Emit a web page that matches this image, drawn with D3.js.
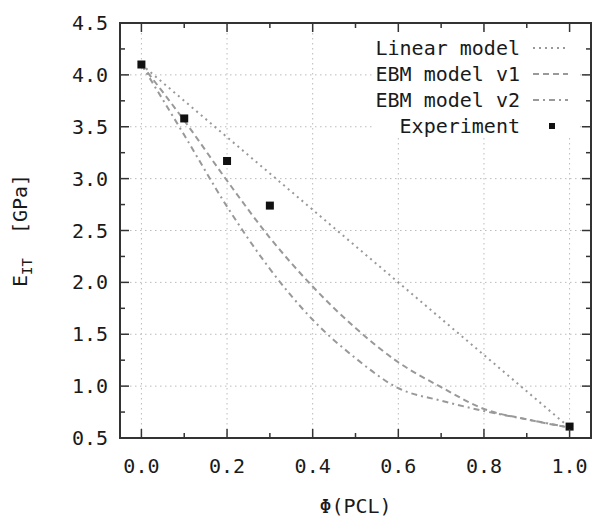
<!DOCTYPE html>
<html>
<head>
<meta charset="utf-8">
<script src="https://cdn.jsdelivr.net/npm/d3@7"></script>
<style>
  body { margin: 0; background: #fff; }
  text { font-family: "DejaVu Sans Mono", monospace; fill: #1a1a1a; }
</style>
</head>
<body>
<div id="chart"></div>
<script>
// values
const phi = [0.0, 0.1, 0.2, 0.3, 0.4, 0.5, 0.6, 0.7, 0.8, 0.9, 1.0];
const linearModel = [4.1, 3.75, 3.4, 3.05, 2.7, 2.35, 2.0, 1.65, 1.3, 0.95, 0.6];
const ebmV1 = [4.1, 3.56, 2.98, 2.43, 1.96, 1.56, 1.23, 0.99, 0.78, 0.68, 0.6];
const ebmV2 = [4.1, 3.42, 2.73, 2.13, 1.64, 1.27, 0.98, 0.86, 0.76, 0.68, 0.6];
const expPhi = [0.0, 0.1, 0.2, 0.3, 1.0];
const expE = [4.1, 3.58, 3.17, 2.74, 0.61];
const xTicks = [0.0, 0.2, 0.4, 0.6, 0.8, 1.0];
const yTicks = [0.5, 1.0, 1.5, 2.0, 2.5, 3.0, 3.5, 4.0, 4.5];
const legendNames = ['Linear model', 'EBM model v1', 'EBM model v2', 'Experiment'];

const config = {
  width: 594,
  height: 517,
  margin: {top: 23, right: 3, bottom: 79, left: 120}
};
const innerW = config.width - config.margin.left - config.margin.right;
const innerH = config.height - config.margin.top - config.margin.bottom;

const svg = d3.select('#chart').append('svg')
  .attr('width', config.width)
  .attr('height', config.height);

const g = svg.append('g')
  .attr('transform', `translate(${config.margin.left},${config.margin.top})`);

const x = d3.scaleLinear().domain([-0.05, 1.05]).range([0, innerW]);
const y = d3.scaleLinear().domain([0.5, 4.5]).range([innerH, 0]);

// grid
g.append('g').selectAll('line.gx')
  .data(xTicks)
  .join('line')
  .attr('x1', d => x(d)).attr('x2', d => x(d))
  .attr('y1', 0).attr('y2', innerH)
  .attr('stroke', '#bbb').attr('stroke-width', 1).attr('stroke-dasharray', '1.5,3.5');
g.append('g').selectAll('line.gy')
  .data(yTicks.slice(1, -1))
  .join('line')
  .attr('x1', 0).attr('x2', innerW)
  .attr('y1', d => y(d)).attr('y2', d => y(d))
  .attr('stroke', '#bbb').attr('stroke-width', 1).attr('stroke-dasharray', '1.5,3.5');

// legend background hides the grid
g.append('rect')
  .attr('x', 255).attr('y', 10)
  .attr('width', 205).attr('height', 105)
  .attr('fill', '#fff');

// model curves
const series = [
  {vals: linearModel, dash: '2,4', curve: d3.curveLinear},
  {vals: ebmV1, dash: '6,4', curve: d3.curveMonotoneX},
  {vals: ebmV2, dash: '6,4,2,4', curve: d3.curveMonotoneX}
];

series.forEach(s => {
  const line = d3.line()
    .x((d, i) => x(phi[i]))
    .y(d => y(d))
    .curve(s.curve);
  g.append('path')
    .datum(s.vals)
    .attr('d', line)
    .attr('fill', 'none')
    .attr('stroke', '#999')
    .attr('stroke-width', 2)
    .attr('stroke-dasharray', s.dash);
});

// experiment points
g.append('g').selectAll('rect')
  .data(expPhi)
  .join('rect')
  .attr('x', d => x(d) - 4)
  .attr('y', (d, i) => y(expE[i]) - 4)
  .attr('width', 8).attr('height', 8)
  .attr('fill', '#111');

// ticks (inward, mirrored on all sides)
const xMinor = d3.range(0.1, 1.0, 0.2);
const yMinor = d3.range(0.75, 4.5, 0.5);
const tickG = g.append('g').attr('stroke', '#333').attr('stroke-width', 1.5);
[[xTicks, 9], [xMinor, 5]].forEach(([arr, len]) => {
  arr.forEach(v => {
    tickG.append('line').attr('x1', x(v)).attr('x2', x(v)).attr('y1', innerH).attr('y2', innerH - len);
    tickG.append('line').attr('x1', x(v)).attr('x2', x(v)).attr('y1', 0).attr('y2', len);
  });
});
[[yTicks, 9], [yMinor, 5]].forEach(([arr, len]) => {
  arr.forEach(v => {
    tickG.append('line').attr('x1', 0).attr('x2', len).attr('y1', y(v)).attr('y2', y(v));
    tickG.append('line').attr('x1', innerW).attr('x2', innerW - len).attr('y1', y(v)).attr('y2', y(v));
  });
});

// frame
g.append('rect')
  .attr('width', innerW).attr('height', innerH)
  .attr('fill', 'none')
  .attr('stroke', '#333')
  .attr('stroke-width', 2);

// tick labels
g.append('g').selectAll('text')
  .data(xTicks)
  .join('text')
  .attr('x', d => x(d))
  .attr('y', innerH + 28)
  .attr('dy', '0.35em')
  .attr('text-anchor', 'middle')
  .attr('font-size', 20)
  .text(d3.format('.1f'));

g.append('g').selectAll('text')
  .data(yTicks)
  .join('text')
  .attr('x', -12)
  .attr('y', d => y(d))
  .attr('dy', '0.35em')
  .attr('text-anchor', 'end')
  .attr('font-size', 20)
  .text(d3.format('.1f'));

// axis titles
svg.append('text')
  .attr('x', config.margin.left + innerW / 2)
  .attr('y', 506)
  .attr('dy', '0.35em')
  .attr('text-anchor', 'middle')
  .attr('font-size', 20)
  .text('Φ(PCL)');

const yTitle = svg.append('text')
  .attr('transform', `translate(27,${config.margin.top + innerH / 2}) rotate(-90)`)
  .attr('text-anchor', 'middle')
  .attr('font-size', 20);
yTitle.append('tspan').text('E');
yTitle.append('tspan').attr('font-size', 14).attr('dy', 5).text('IT');
yTitle.append('tspan').attr('dy', -5).attr('xml:space', 'preserve').text('  [GPa]');

// legend
const legend = g.append('g');
legendNames.forEach((name, i) => {
  const ly = 25 + i * 26;
  legend.append('text')
    .attr('x', 400).attr('y', ly)
    .attr('dy', '0.35em')
    .attr('text-anchor', 'end')
    .attr('font-size', 20)
    .text(name);
  if (i < 3) {
    legend.append('line')
      .attr('x1', 413).attr('x2', 448)
      .attr('y1', ly).attr('y2', ly)
      .attr('stroke', '#999').attr('stroke-width', 2)
      .attr('stroke-dasharray', series[i].dash);
  } else {
    legend.append('rect')
      .attr('x', 429).attr('y', ly - 3)
      .attr('width', 6).attr('height', 6)
      .attr('fill', '#111');
  }
});
</script>
</body>
</html>
